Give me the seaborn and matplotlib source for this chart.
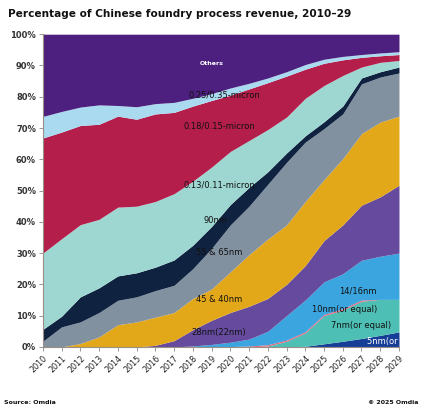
import numpy as np
import matplotlib
matplotlib.use("Agg")
import matplotlib.pyplot as plt
import seaborn as sns

sns.set_theme(style="white")
plt.rcParams['font.family'] = ['DejaVu Sans']

# Dados (participação % por ano)
anos = list(range(2010, 2030))
s_5nm   = [0]*14 + [0.2, 1.0, 1.8, 2.7, 3.7, 4.8]
s_7nm   = [0]*12 + [0.3, 1.8, 4.3, 9.0, 10.0, 11.9, 11.5, 10.4]
s_10nm  = [0]*10 + [0.1, 0.3, 0.4, 0.4, 0.4, 0.4, 0.4, 0.4, 0.0, 0.0]
s_14nm  = [0]*8 + [0.3, 0.8, 1.4, 2.2, 4.3, 7.8, 10.1, 10.4, 11.2, 12.7, 13.8, 14.8]
s_28nm  = [0]*6 + [0.5, 2.0, 5.2, 7.7, 9.5, 10.5, 10.5, 10.0, 11.0, 13.2, 15.6, 17.6, 19.0, 21.7]
s_45nm  = [0, 0, 1.1, 3.2, 7.1, 8.0, 9.0, 9.0, 10.0, 10.0, 13.0, 16.5, 19.0, 19.0, 20.5, 19.5, 21.2, 22.9, 23.9, 22.1]
s_55nm  = [1.8, 6.4, 6.9, 7.8, 7.8, 8.0, 8.5, 8.7, 9.5, 13.0, 15.0, 15.5, 17.5, 20.0, 19.0, 16.3, 14.3, 15.9, 14.4, 13.8]
s_90nm  = [3.8, 3.4, 8.0, 7.9, 7.8, 7.7, 7.5, 8.1, 7.5, 7.0, 6.5, 6.0, 4.0, 3.0, 2.0, 2.2, 2.5, 1.9, 1.7, 1.9]
s_013   = [24.4, 24.8, 23.1, 21.9, 22.0, 21.3, 21.0, 21.2, 20.5, 19.0, 17.0, 15.0, 13.5, 11.5, 12.0, 11.6, 9.8, 3.5, 3.0, 2.1]
s_018   = [36.8, 34.1, 31.7, 30.4, 29.1, 27.8, 28.0, 26.0, 24.0, 21.3, 18.0, 16.5, 15.0, 13.1, 9.3, 7.1, 5.0, 3.1, 2.1, 1.9]
s_025   = [6.9, 6.6, 5.9, 6.2, 3.4, 4.0, 3.3, 3.2, 2.5, 2.2, 2.3, 1.8, 1.5, 1.4, 1.5, 1.3, 1.1, 0.9, 0.9, 0.9]
s_outros = [26.3, 24.7, 23.3, 22.6, 22.8, 23.2, 22.2, 21.8, 20.5, 19.0, 17.2, 15.7, 14.0, 12.0, 9.7, 8.0, 7.1, 6.5, 6.0, 5.6]

series = [s_5nm, s_7nm, s_10nm, s_14nm, s_28nm, s_45nm, s_55nm, s_90nm,
          s_013, s_018, s_025, s_outros]
cores = ['#173E97', '#4DBFB4', '#F0617A', '#3AA5DF', '#654A9E', '#E3A81A',
         '#8291A0', '#0F2341', '#9ED7D1', '#B41E4B', '#A9DAF0', '#4D1F7E']

fig = plt.figure(figsize=(4.24, 4.12), dpi=100)
ax = fig.add_axes([0.101, 0.158, 0.84, 0.759])

ax.stackplot(anos, *series, colors=cores, linewidth=0)

ax.set_xlim(2010, 2029)
ax.set_ylim(0, 100)
ax.set_xticks(anos)
ax.set_xticklabels([str(a) for a in anos], rotation=45, ha='right',
                   rotation_mode='anchor', fontsize=5.8, color='#222222')
ax.set_yticks(range(0, 101, 10))
ax.set_yticklabels([f'{v}%' for v in range(0, 101, 10)], fontsize=6,
                   fontweight='bold', color='#333333')
ax.tick_params(axis='both', length=3, width=0.6, color='#888888', pad=2,
               bottom=True, left=True)
for lado in ['top', 'right']:
    ax.spines[lado].set_visible(False)
for lado in ['left', 'bottom']:
    ax.spines[lado].set_color('#9a8f86')
    ax.spines[lado].set_linewidth(0.8)
ax.grid(False)

# Rótulos das áreas
rot = dict(fontsize=6, color='#111111', ha='center', va='center')
ax.text(2019.0, 90.6, 'Others', fontsize=4.5, color='white', ha='center',
        va='center', fontweight='bold')
ax.text(2019.7, 80.4, '0.25/0.35-micron', **rot)
ax.text(2019.4, 70.5, '0.18/0.15-micron', **rot)
ax.text(2019.4, 51.7, '0.13/0.11-micron', **rot)
ax.text(2019.2, 40.5, '90nm', **rot)
ax.text(2019.4, 30.3, '55 & 65nm', **rot)
ax.text(2019.4, 15.3, '45 & 40nm', **rot)
ax.text(2019.4, 4.7, '28nm(22nm)', **rot)
ax.text(2026.8, 17.8, '14/16nm', **rot)
ax.text(2026.1, 12.0, '10nm(or equal)', **rot)
ax.text(2027.0, 6.8, '7nm(or equal)', **rot)
ax.text(2027.3, 1.7, '5nm(or equal)', fontsize=6, color='white',
        ha='left', va='center', clip_on=True)

fig.text(0.019, 0.965, 'Percentage of Chinese foundry process revenue, 2010\u201329',
         fontsize=7.6, fontweight='bold', ha='left', va='center', color='#111111')
fig.text(0.01, 0.024, 'Source: Omdia', fontsize=4.5, fontweight='bold',
         ha='left', va='center', color='#111111')
fig.text(0.987, 0.024, '\u00a9 2025 Omdia', fontsize=4.5, fontweight='bold',
         ha='right', va='center', color='#111111')

plt.savefig('out.png', dpi=100)
plt.close()
